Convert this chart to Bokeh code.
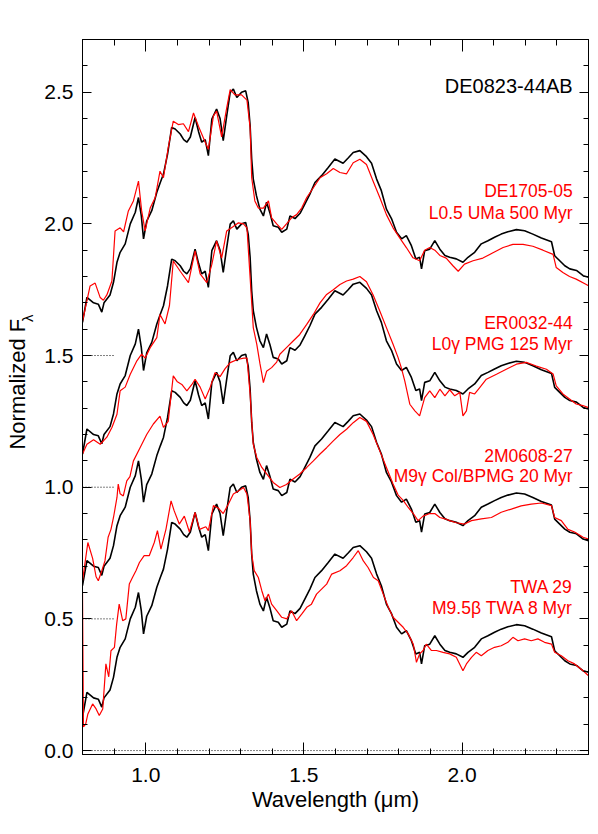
import numpy as np
from bokeh.plotting import figure
from bokeh.layouts import row
from bokeh.models import Range1d, FixedTicker, LinearAxis, Label
from bokeh.core.properties import value
from bokeh.embed import file_html
from bokeh.resources import INLINE

# ---------------- data (normalized flux, before vertical offset) ----------------
# DE0823-44AB (black, same spectrum shown in every pair)
wl_ref = [0.800, 0.814, 0.835, 0.850, 0.861, 0.868, 0.887, 0.898, 0.909, 0.919, 0.935, 0.951, 0.967, 0.977,
          0.986, 0.993, 1.003, 1.019, 1.035, 1.046, 1.056, 1.069, 1.082, 1.093, 1.109, 1.120, 1.130, 1.141,
          1.156, 1.167, 1.177, 1.188, 1.198, 1.209, 1.224, 1.235, 1.245, 1.256, 1.267, 1.277, 1.288, 1.303,
          1.316, 1.324, 1.330, 1.335, 1.340, 1.350, 1.361, 1.372, 1.382, 1.393, 1.403, 1.419, 1.430, 1.446,
          1.456, 1.472, 1.488, 1.503, 1.519, 1.535, 1.556, 1.577, 1.598, 1.624, 1.640, 1.656, 1.677, 1.698,
          1.714, 1.730, 1.745, 1.761, 1.777, 1.793, 1.809, 1.824, 1.840, 1.854, 1.866, 1.872, 1.882, 1.898,
          1.914, 1.930, 1.946, 1.961, 1.982, 2.003, 2.019, 2.040, 2.061, 2.082, 2.103, 2.124, 2.145, 2.172,
          2.198, 2.224, 2.251, 2.283, 2.293, 2.309, 2.325, 2.341, 2.362, 2.383, 2.400]
fl_ref = [0.126, 0.221, 0.200, 0.195, 0.165, 0.200, 0.230, 0.278, 0.354, 0.392, 0.424, 0.500, 0.544, 0.600,
          0.530, 0.443, 0.510, 0.550, 0.620, 0.657, 0.689, 0.765, 0.866, 0.860, 0.841, 0.820, 0.810, 0.830,
          0.904, 0.850, 0.810, 0.820, 0.759, 0.898, 0.936, 0.900, 0.816, 0.910, 0.999, 1.012, 0.980, 1.000,
          1.005, 0.960, 0.873, 0.746, 0.670, 0.607, 0.556, 0.530, 0.582, 0.540, 0.493, 0.487, 0.468, 0.480,
          0.530, 0.520, 0.540, 0.575, 0.613, 0.657, 0.683, 0.714, 0.746, 0.730, 0.750, 0.771, 0.778, 0.755,
          0.730, 0.670, 0.626, 0.556, 0.520, 0.468, 0.443, 0.455, 0.417, 0.367, 0.373, 0.329, 0.398, 0.404,
          0.436, 0.404, 0.380, 0.373, 0.367, 0.354, 0.373, 0.392, 0.424, 0.436, 0.449, 0.461, 0.470, 0.478,
          0.474, 0.461, 0.446, 0.432, 0.379, 0.360, 0.341, 0.329, 0.323, 0.303, 0.297]

# TWA 29 (red, offset 0.0)
wl_twa29 = [0.800, 0.803, 0.810, 0.817, 0.832, 0.843, 0.853, 0.864, 0.874, 0.883, 0.890, 0.901, 0.908, 0.916,
            0.927, 0.937, 0.948, 0.958, 0.969, 0.980, 0.995, 1.011, 1.027, 1.037, 1.048, 1.064, 1.080, 1.090,
            1.106, 1.122, 1.138, 1.156, 1.170, 1.190, 1.198, 1.214, 1.230, 1.245, 1.261, 1.277, 1.293, 1.309,
            1.320, 1.330, 1.335, 1.343, 1.356, 1.367, 1.377, 1.388, 1.398, 1.414, 1.430, 1.446, 1.461, 1.477,
            1.493, 1.509, 1.524, 1.540, 1.556, 1.572, 1.588, 1.614, 1.635, 1.656, 1.672, 1.688, 1.703, 1.720,
            1.735, 1.751, 1.767, 1.782, 1.798, 1.814, 1.830, 1.846, 1.856, 1.866, 1.877, 1.887, 1.903, 1.919,
            1.940, 1.961, 1.982, 2.003, 2.014, 2.030, 2.045, 2.061, 2.082, 2.103, 2.124, 2.145, 2.161, 2.177,
            2.198, 2.219, 2.240, 2.261, 2.283, 2.293, 2.314, 2.335, 2.356, 2.383, 2.400]
fl_twa29 = [0.600, 0.090, 0.100, 0.139, 0.177, 0.158, 0.133, 0.158, 0.329, 0.280, 0.379, 0.392, 0.480, 0.556,
            0.493, 0.500, 0.632, 0.657, 0.683, 0.714, 0.740, 0.740, 0.790, 0.835, 0.765, 0.841, 0.948, 0.910,
            0.860, 0.890, 0.830, 0.904, 0.840, 0.850, 0.835, 0.930, 0.920, 0.900, 0.935, 0.974, 0.986, 0.999,
            0.974, 0.873, 0.746, 0.683, 0.657, 0.607, 0.569, 0.594, 0.556, 0.531, 0.506, 0.500, 0.531, 0.493,
            0.518, 0.544, 0.556, 0.594, 0.613, 0.632, 0.670, 0.683, 0.702, 0.733, 0.759, 0.720, 0.695, 0.657,
            0.645, 0.594, 0.544, 0.506, 0.487, 0.468, 0.443, 0.404, 0.335, 0.367, 0.380, 0.404, 0.380, 0.380,
            0.373, 0.367, 0.354, 0.303, 0.329, 0.354, 0.373, 0.360, 0.380, 0.392, 0.398, 0.411, 0.430, 0.417,
            0.424, 0.417, 0.424, 0.411, 0.404, 0.373, 0.360, 0.341, 0.329, 0.303, 0.284]

# 2M0608-27 (red, offset 0.5)
wl_2m0608 = [0.800, 0.817, 0.832, 0.843, 0.850, 0.861, 0.871, 0.881, 0.890, 0.898, 0.909, 0.913, 0.919, 0.929,
             0.940, 0.950, 0.961, 0.982, 1.003, 1.024, 1.045, 1.056, 1.071, 1.087, 1.100, 1.114, 1.130, 1.146,
             1.156, 1.172, 1.188, 1.204, 1.219, 1.235, 1.251, 1.267, 1.290, 1.310, 1.320, 1.330, 1.335, 1.340,
             1.351, 1.367, 1.383, 1.403, 1.424, 1.445, 1.466, 1.487, 1.509, 1.530, 1.551, 1.572, 1.593, 1.614,
             1.635, 1.656, 1.677, 1.698, 1.719, 1.740, 1.761, 1.782, 1.798, 1.814, 1.830, 1.846, 1.861, 1.877,
             1.898, 1.914, 1.930, 1.946, 1.961, 1.982, 2.008, 2.030, 2.061, 2.093, 2.124, 2.156, 2.187, 2.219,
             2.251, 2.283, 2.293, 2.314, 2.335, 2.356, 2.383, 2.400]
fl_2m0608 = [0.145, 0.290, 0.230, 0.160, 0.145, 0.183, 0.220, 0.310, 0.340, 0.385, 0.461, 0.512, 0.475, 0.467,
             0.524, 0.540, 0.600, 0.650, 0.700, 0.740, 0.770, 0.727, 0.750, 0.923, 0.900, 0.890, 0.866, 0.890,
             0.910, 0.880, 0.835, 0.880, 0.935, 0.920, 0.950, 0.973, 0.985, 0.990, 0.990, 0.854, 0.752, 0.663,
             0.613, 0.575, 0.550, 0.518, 0.499, 0.510, 0.531, 0.550, 0.575, 0.600, 0.626, 0.650, 0.676, 0.700,
             0.720, 0.745, 0.765, 0.750, 0.700, 0.638, 0.575, 0.512, 0.470, 0.450, 0.423, 0.400, 0.373, 0.390,
             0.400, 0.400, 0.385, 0.380, 0.373, 0.365, 0.360, 0.373, 0.380, 0.385, 0.405, 0.417, 0.429, 0.436,
             0.440, 0.430, 0.385, 0.373, 0.340, 0.330, 0.310, 0.303]

# ER0032-44 (red, offset 1.0)
wl_er0032 = [0.800, 0.814, 0.835, 0.856, 0.877, 0.893, 0.909, 0.919, 0.935, 0.951, 0.972, 0.987, 0.998, 1.014,
             1.035, 1.045, 1.061, 1.075, 1.087, 1.109, 1.135, 1.156, 1.172, 1.193, 1.209, 1.224, 1.240, 1.256,
             1.277, 1.293, 1.309, 1.320, 1.330, 1.340, 1.351, 1.361, 1.372, 1.382, 1.398, 1.414, 1.424, 1.445,
             1.466, 1.487, 1.509, 1.530, 1.551, 1.572, 1.593, 1.614, 1.635, 1.656, 1.677, 1.698, 1.719, 1.740,
             1.761, 1.782, 1.798, 1.808, 1.819, 1.835, 1.851, 1.866, 1.882, 1.898, 1.914, 1.930, 1.946, 1.961,
             1.977, 1.993, 2.003, 2.014, 2.024, 2.040, 2.056, 2.077, 2.109, 2.140, 2.172, 2.203, 2.235, 2.267,
             2.288, 2.298, 2.319, 2.340, 2.361, 2.382, 2.400]
fl_er0032 = [0.126, 0.163, 0.180, 0.163, 0.190, 0.227, 0.277, 0.366, 0.380, 0.429, 0.480, 0.505, 0.490, 0.530,
             0.568, 0.656, 0.620, 0.690, 0.859, 0.820, 0.777, 0.897, 0.810, 0.777, 0.846, 0.935, 0.870, 0.973,
             0.990, 1.004, 1.000, 0.985, 0.796, 0.606, 0.543, 0.470, 0.397, 0.440, 0.454, 0.475, 0.505, 0.530,
             0.555, 0.580, 0.618, 0.656, 0.700, 0.732, 0.750, 0.770, 0.783, 0.790, 0.800, 0.780, 0.730, 0.669,
             0.606, 0.543, 0.492, 0.454, 0.404, 0.315, 0.290, 0.271, 0.340, 0.366, 0.340, 0.372, 0.347, 0.370,
             0.347, 0.360, 0.271, 0.290, 0.360, 0.354, 0.378, 0.410, 0.429, 0.448, 0.467, 0.474, 0.460, 0.448,
             0.430, 0.385, 0.354, 0.335, 0.316, 0.310, 0.302]

# DE1705-05 (red, offset 1.5)
wl_de1705 = [0.800, 0.824, 0.840, 0.856, 0.866, 0.877, 0.893, 0.903, 0.919, 0.930, 0.945, 0.961, 0.977, 0.987,
             0.998, 1.014, 1.030, 1.045, 1.056, 1.071, 1.087, 1.103, 1.119, 1.135, 1.151, 1.167, 1.188, 1.198,
             1.214, 1.224, 1.240, 1.256, 1.267, 1.282, 1.303, 1.320, 1.330, 1.335, 1.345, 1.356, 1.372, 1.388,
             1.398, 1.414, 1.430, 1.445, 1.461, 1.477, 1.493, 1.509, 1.530, 1.551, 1.572, 1.593, 1.614, 1.635,
             1.656, 1.677, 1.698, 1.719, 1.740, 1.761, 1.782, 1.803, 1.824, 1.845, 1.866, 1.882, 1.898, 1.914,
             1.930, 1.950, 1.972, 1.988, 2.008, 2.035, 2.066, 2.098, 2.130, 2.161, 2.193, 2.224, 2.256, 2.288,
             2.298, 2.319, 2.340, 2.361, 2.393, 2.400]
fl_de1705 = [0.130, 0.264, 0.275, 0.220, 0.210, 0.230, 0.283, 0.473, 0.485, 0.470, 0.549, 0.587, 0.662, 0.550,
             0.473, 0.560, 0.600, 0.700, 0.675, 0.789, 0.890, 0.877, 0.880, 0.850, 0.921, 0.870, 0.810, 0.783,
             0.910, 0.928, 0.830, 0.940, 1.010, 0.990, 0.990, 0.970, 0.865, 0.675, 0.587, 0.560, 0.560, 0.587,
             0.523, 0.500, 0.479, 0.500, 0.523, 0.535, 0.560, 0.600, 0.637, 0.675, 0.690, 0.710, 0.695, 0.690,
             0.732, 0.745, 0.725, 0.662, 0.600, 0.535, 0.485, 0.447, 0.410, 0.371, 0.360, 0.400, 0.410, 0.400,
             0.380, 0.370, 0.340, 0.320, 0.347, 0.360, 0.370, 0.390, 0.410, 0.422, 0.422, 0.415, 0.400, 0.384,
             0.334, 0.315, 0.300, 0.290, 0.270, 0.265]

offsets = [0.0, 0.5, 1.0, 1.5]
names = ["TWA 29", "2M0608-27", "ER0032-44", "DE1705-05"]
descr = ["M9.5\u03b2 TWA 8 Myr", "M9\u03b3 Col/BPMG 20 Myr", "L0\u03b3 PMG 125 Myr", "L0.5 UMa 500 Myr"]
comp_wl = [wl_twa29, wl_2m0608, wl_er0032, wl_de1705]
comp_fl = [fl_twa29, fl_2m0608, fl_er0032, fl_de1705]
ref_name = "DE0823-44AB"

x_ticks = [1.0, 1.5, 2.0]
x_tick_labels = ["1.0", "1.5", "2.0"]
y_ticks = [0.0, 0.5, 1.0, 1.5, 2.0, 2.5]
y_tick_labels = ["0.0", "0.5", "1.0", "1.5", "2.0", "2.5"]

# ---------------- figure ----------------
FONT = "Liberation Sans"
RED = "#ff0000"
X0, X1 = 0.8, 2.4
Y0, Y1 = -0.015, 2.70
H = 834
LAB_W = 40

p = figure(width=598 - LAB_W, height=H, output_backend="svg", toolbar_location=None,
           x_range=Range1d(X0, X1), y_range=Range1d(Y0, Y1),
           min_border_left=82 - LAB_W, min_border_right=10, min_border_top=39, min_border_bottom=80,
           x_axis_type=None, y_axis_type=None)
p.grid.visible = False
p.outline_line_color = "black"
p.outline_line_width = 1
p.background_fill_color = "white"
p.border_fill_color = "white"

x_minor = [round(v, 2) for v in np.arange(0.8, 2.401, 0.1)]
y_minor = [round(v, 2) for v in np.arange(0.0, 2.701, 0.1)]
xt = FixedTicker(ticks=x_ticks, minor_ticks=x_minor)
yt = FixedTicker(ticks=y_ticks, minor_ticks=y_minor)


def style_axis(ax, show_labels, major_in, minor_in, standoff):
    ax.axis_line_color = "black"
    ax.axis_line_width = 1
    ax.major_tick_in = major_in
    ax.major_tick_out = 0
    ax.minor_tick_in = minor_in
    ax.minor_tick_out = 0
    ax.major_tick_line_color = "black"
    ax.minor_tick_line_color = "black"
    ax.major_label_text_font = FONT
    ax.major_label_standoff = standoff
    if show_labels:
        ax.major_label_text_font_size = "21px"
        ax.major_label_text_color = "black"
    else:
        ax.major_label_text_font_size = "0px"
        ax.major_label_text_alpha = 0


xb = LinearAxis(ticker=xt, major_label_overrides=dict(zip(x_ticks, x_tick_labels)))
style_axis(xb, True, 12, 6, 13)
xb.axis_label = "Wavelength (\u03bcm)"
xb.axis_label_text_font = FONT
xb.axis_label_text_font_size = "22px"
xb.axis_label_text_font_style = "normal"
xb.axis_label_text_color = "black"
xb.axis_label_standoff = 2
p.add_layout(xb, "below")

xa = LinearAxis(ticker=xt)
style_axis(xa, False, 12, 6, 0)
p.add_layout(xa, "above")

yl = LinearAxis(ticker=yt, major_label_overrides=dict(zip(y_ticks, y_tick_labels)))
style_axis(yl, True, 9, 5, 9)
p.add_layout(yl, "left")

yr = LinearAxis(ticker=yt)
style_axis(yr, False, 9, 5, 0)
p.add_layout(yr, "right")

# zero-level dotted markers
p.line([X0, X1], [0.0, 0.0], line_color="black", line_width=1, line_dash="1 2")
for off in offsets[1:]:
    p.line([X0, X0 + 0.1], [off, off], line_color="black", line_width=1, line_dash="1 2")

# spectra
ref_wl = np.array(wl_ref)
ref_fl = np.array(fl_ref)
for off, w, f in zip(offsets, comp_wl, comp_fl):
    p.line(ref_wl, ref_fl + off, line_color="black", line_width=1.6)
    p.line(np.array(w), np.array(f) + off, line_color=RED, line_width=1.2)

# labels
p.add_layout(Label(x=2.35, y=2.523, text=ref_name, text_align="right", text_baseline="middle",
                   text_font=FONT, text_font_size="20px", text_color="black"))
name_y = [0.620, 1.119, 1.625, 2.124]
desc_y = [0.541, 1.043, 1.543, 2.042]
for n, d, ny, dy in zip(names, descr, name_y, desc_y):
    p.add_layout(Label(x=2.35, y=ny, text=n, text_align="right", text_baseline="middle",
                       text_font=FONT, text_font_size="17.5px", text_color=RED))
    p.add_layout(Label(x=2.35, y=dy, text=d, text_align="right", text_baseline="middle",
                       text_font=FONT, text_font_size="17.5px", text_color=RED))

# ---------------- narrow strip holding the y-axis title (F with subscript lambda) ----------------
lab = figure(width=LAB_W, height=H, output_backend="svg", toolbar_location=None,
             x_range=Range1d(0, LAB_W), y_range=Range1d(0, H),
             min_border_left=0, min_border_right=0, min_border_top=0, min_border_bottom=0,
             x_axis_type=None, y_axis_type=None)
lab.grid.visible = False
lab.outline_line_color = None
lab.background_fill_color = "white"
lab.border_fill_color = "white"
lab.text(x=[17], y=[H - 402], text=["Normalized F"], angle=np.pi / 2, text_align="center",
         text_baseline="middle", text_font=value(FONT), text_font_size="22px", text_color="black")
lab.text(x=[27], y=[H - 325], text=["\u03bb"], angle=np.pi / 2, text_align="center",
         text_baseline="middle", text_font=value(FONT), text_font_size="15px", text_color="black")

layout = row(lab, p, spacing=0)
open("out.html", "w").write(file_html(layout, INLINE))
